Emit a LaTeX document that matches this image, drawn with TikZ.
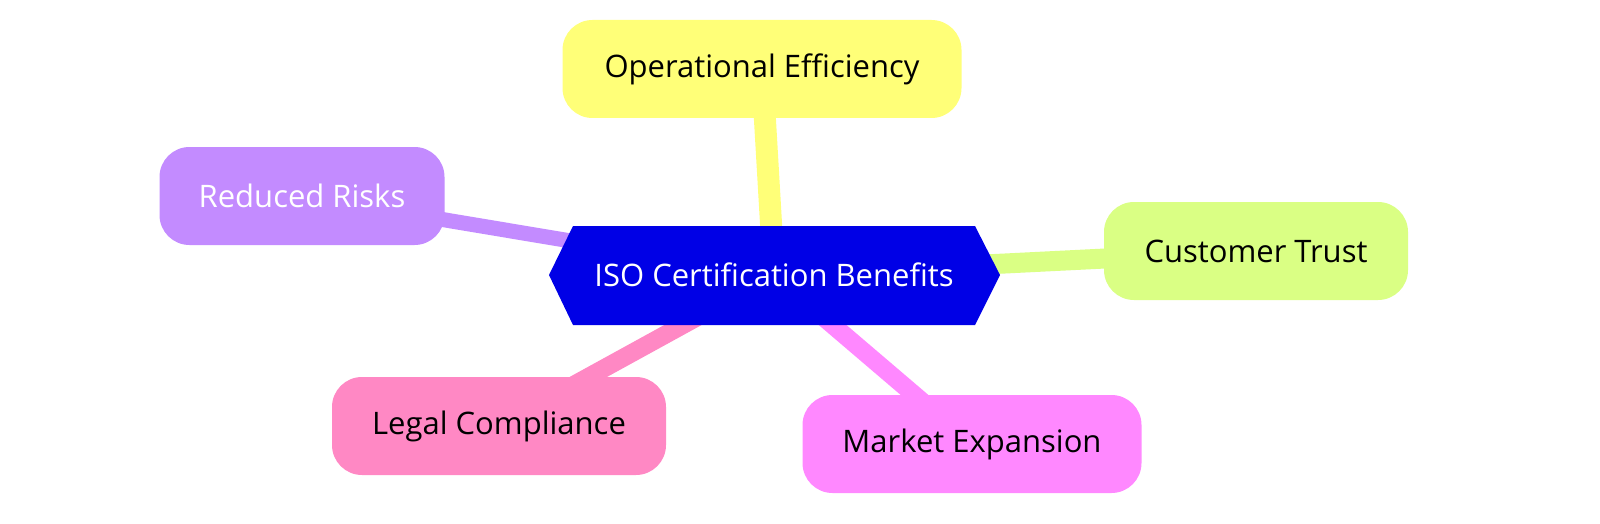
\documentclass[tikz,border=0pt]{standalone}
\usepackage{fontspec}
\setmainfont{Open Sans}
\usetikzlibrary{backgrounds}
\begin{document}
\begin{tikzpicture}[x=1pt,y=-1pt,
  leaf/.style={rounded corners=30pt,minimum height=98pt,font=\fontsize{31}{35}\selectfont,text=black,inner sep=0pt},
  link/.style={line cap=butt}]
\path[use as bounding box] (0,0) rectangle (1600,524);
\definecolor{cY}{HTML}{FFFF78}\definecolor{cP}{HTML}{C38BFF}\definecolor{cG}{HTML}{DAFF84}
\definecolor{cR}{HTML}{FF88C4}\definecolor{cM}{HTML}{FF88FF}\definecolor{cB}{HTML}{0000E6}
\node[leaf,fill=cY,minimum width=399pt] (op) at (762,69) {Operational Efficiency};
\node[leaf,fill=cP,minimum width=285pt,text=white] (rr) at (302,196) {Reduced Risks};
\node[leaf,fill=cG,minimum width=304pt] (ct) at (1256,251) {Customer Trust};
\node[leaf,fill=cR,minimum width=334pt] (lc) at (499,426) {Legal Compliance};
\node[leaf,fill=cM,minimum width=339pt] (me) at (972,444) {Market Expansion};
\node[inner sep=0pt,text=white,font=\fontsize{31}{35}\selectfont] (hub) at (774,275) {ISO Certification Benefits};
\begin{pgfonlayer}{background}
\fill[white] (0,0) rectangle (1600,524);
\draw[link,cY,line width=22pt] (hub.center) -- (op.center);
\draw[link,cP,line width=15pt] (hub.center) -- (rr.center);
\draw[link,cG,line width=20pt] (hub.center) -- (ct.center);
\draw[link,cR,line width=18pt] (hub.center) -- (lc.center);
\draw[link,cM,line width=18pt] (hub.center) -- (me.center);
\fill[cB] (549,275) -- (573,226) -- (975,226) -- (1000,275) -- (975,325) -- (573,325) -- cycle;
\end{pgfonlayer}
\end{tikzpicture}
\end{document}
